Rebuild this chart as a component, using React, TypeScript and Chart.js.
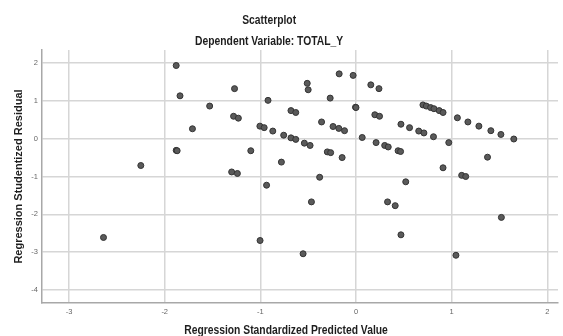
import React, { useEffect, useRef } from "react";
import { Chart, registerables } from "chart.js";

Chart.register(...registerables);

const chartTitle = "Scatterplot";
const chartSubtitle = "Dependent Variable: TOTAL_Y";
const xAxisTitle = "Regression Standardized Predicted Value";
const yAxisTitle = "Regression Studentized Residual";

const xTicks = [-3, -2, -1, 0, 1, 2];
const yTicks = [-4, -3, -2, -1, 0, 1, 2];

const predictedValues = [
  -1.88, -1.84, -1.71, -1.88, -1.87, -2.25, -2.64, -1.53, -1.27, -1.28,
  -1.23, -1.10, -1.30, -1.24, -0.92, -1.005, -0.96, -0.87, -0.935, -0.78,
  -0.756, -0.68, -0.63, -0.68, -0.63, -0.54, -0.48, -0.51, -0.50, -0.36,
  -0.27, -0.30, -0.265, -0.24, -0.18, -0.12, -0.145, -0.38, -0.176, -0.03,
  -0.005, 0.0, 0.065, 0.155, 0.24, 0.197, 0.246, 0.21, 0.30, 0.337,
  0.44, 0.466, 0.47, 0.56, 0.656, 0.71, 0.81, 0.70, 0.735, 0.78,
  0.815, 0.87, 0.91, 0.97, 1.06, 1.17, 1.285, 1.41, 1.515, 1.65,
  1.375, 0.91, 1.105, 1.147, 0.52, 0.33, 0.41, 1.52, 0.47, 1.045,
  -0.466, -1.003, -0.553,
];

const studentizedResiduals = [
  1.93, 1.13, 0.26, -0.31, -0.32, -0.71, -2.61, 0.86, 1.32, 0.59,
  0.54, -0.32, -0.88, -0.92, 1.01, 0.33, 0.29, 0.20, -1.23, -0.62,
  0.09, 0.74, 0.69, 0.02, -0.02, -0.12, -0.18, 1.46, 1.29, 0.44,
  1.07, -0.35, -0.37, 0.32, 0.27, 0.21, -0.50, -1.02, 1.71, 1.67,
  0.83, 0.82, 0.03, 1.42, 1.32, 0.63, 0.59, -0.105, -0.18, -0.22,
  -0.32, -0.34, 0.38, 0.29, 0.20, 0.15, 0.05, 0.89, 0.86, 0.82,
  0.79, 0.74, 0.69, -0.105, 0.55, 0.44, 0.33, 0.21, 0.11, -0.01,
  -0.49, -0.77, -0.97, -1.0, -1.14, -1.67, -1.77, -2.08, -2.54, -3.08,
  -1.67, -2.69, -3.04,
];

const FONT = '"Liberation Sans", Arial, sans-serif';

const titlesPlugin = {
  id: "spssTitles",
  afterDraw(chart: any) {
    const ctx = chart.ctx;
    const w = chart.width;
    const h = chart.height;
    const draw = (text: string, x: number, y: number, size: number) => {
      ctx.save();
      ctx.translate(x, y);
      ctx.scale(0.86, 1);
      ctx.font = `bold ${size}px ${FONT}`;
      ctx.fillStyle = "#1e1e1e";
      ctx.textAlign = "center";
      ctx.textBaseline = "middle";
      ctx.fillText(text, 0, 0);
      ctx.restore();
    };
    draw(chartTitle, w * 0.478, 21, 12);
    draw(chartSubtitle, w * 0.478, 42, 12);
    draw(xAxisTitle, w * 0.508, h - 5, 12);
  },
};

export default function App() {
  const canvasRef = useRef<HTMLCanvasElement | null>(null);

  useEffect(() => {
    if (!canvasRef.current) return;
    const points = predictedValues.map((x, i) => ({ x, y: studentizedResiduals[i] }));
    const chart = new Chart(canvasRef.current, {
      type: "scatter",
      data: {
        datasets: [
          {
            data: points,
            backgroundColor: "#5a5a5a",
            borderColor: "#333333",
            borderWidth: 1,
            pointRadius: 3,
          },
        ],
      },
      options: {
        responsive: false,
        animation: false,
        layout: { padding: { top: 50, left: 0, right: 0, bottom: 0 } },
        plugins: {
          legend: { display: false },
          tooltip: { enabled: false },
        },
        scales: {
          x: {
            type: "linear",
            min: -3.283,
            max: 2.112,
            afterBuildTicks: (scale: any) => {
              scale.ticks = xTicks.map((v) => ({ value: v }));
            },
            afterFit: (scale: any) => {
              scale.height = 33;
            },
            grid: { color: "#d6d6d6", lineWidth: 1.5, drawTicks: false },
            border: { display: true, color: "#a8a8a8", width: 1.5 },
            ticks: {
              padding: 4,
              color: "#666",
              font: { size: 7.5, family: FONT },
              callback: (v: any) => String(v),
            },
          },
          y: {
            type: "linear",
            min: -4.34,
            max: 2.34,
            afterBuildTicks: (scale: any) => {
              scale.ticks = yTicks.map((v) => ({ value: v }));
            },
            afterFit: (scale: any) => {
              scale.width = 42;
            },
            grid: { color: "#d6d6d6", lineWidth: 1.5, drawTicks: false },
            border: { display: true, color: "#a8a8a8", width: 1.5 },
            ticks: {
              padding: 4,
              color: "#666",
              font: { size: 7.5, family: FONT },
              callback: (v: any) => String(v),
            },
            title: {
              display: true,
              text: yAxisTitle,
              color: "#1e1e1e",
              font: { size: 11, weight: "bold", family: FONT },
              padding: { top: 12, bottom: 0 },
            },
          },
        },
      },
      plugins: [titlesPlugin],
    });
    return () => chart.destroy();
  }, []);

  return (
    <div style={{ position: "fixed", left: 0, top: 0, width: 563, height: 336, background: "#fff" }}>
      <canvas ref={canvasRef} width={563} height={336} style={{ display: "block" }} />
    </div>
  );
}
